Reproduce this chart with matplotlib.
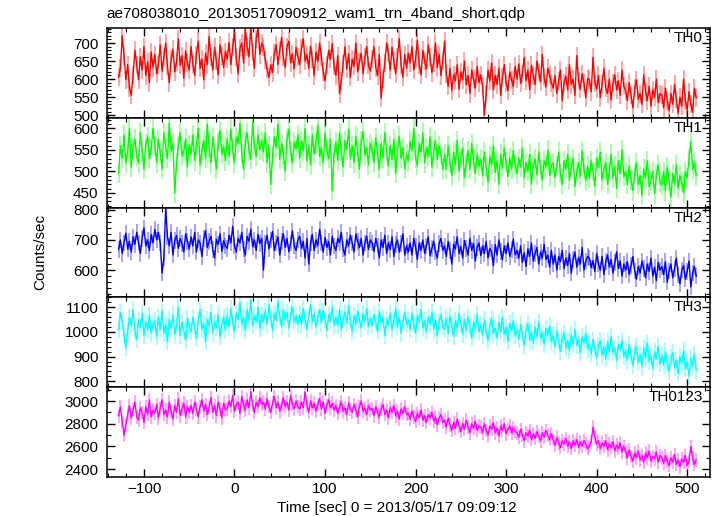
import numpy as np
import matplotlib
matplotlib.use("Agg")
import matplotlib.pyplot as plt
from matplotlib.ticker import MultipleLocator

plt.rcParams["font.family"] = ["Liberation Sans", "DejaVu Sans"]
plt.rcParams["font.size"] = 11

title = "ae708038010_20130517090912_wam1_trn_4band_short.qdp"
x_label = "Time [sec] 0 = 2013/05/17 09:09:12"
y_label = "Counts/sec"

# time grid of the light curve (sec), one value every 2 s
t_start = -128
t_step = 2

th0 = [
    605, 630, 720, 665, 598, 640, 575, 555, 612, 680, 640, 598, 662, 625, 690, 610, 648, 590, 675, 632,
    668, 615, 640, 695, 622, 660, 700, 635, 590, 655, 682, 620, 648, 712, 638, 665, 602, 678, 645, 625,
    690, 642, 610, 668, 705, 630, 655, 598, 672, 640, 718, 660, 625, 688, 650, 612, 695, 665, 632, 676,
    655, 702, 640, 690, 728, 660, 615, 685, 700, 645, 738, 690, 662, 745, 675, 630, 712, 740, 668, 700,
    690, 652, 628, 605, 640, 618, 672, 695, 640, 680, 715, 660, 632, 690, 705, 645, 670, 628, 688, 662,
    640, 685, 712, 650, 668, 630, 692, 655, 610, 675, 648, 700, 662, 620, 595, 640, 680, 655, 698, 635,
    610, 665, 560, 595, 642, 690, 628, 670, 605, 655, 635, 700, 620, 648, 672, 615, 660, 690, 638, 622,
    655, 690, 632, 610, 668, 548, 600, 645, 700, 672, 625, 688, 650, 615, 662, 712, 640, 605, 668, 630,
    672, 645, 690, 625, 655, 708, 640, 612, 680, 650, 628, 695, 660, 618, 645, 700, 632, 668, 610, 650,
    705, 615, 580, 630, 568, 612, 595, 640, 572, 620, 598, 650, 585, 610, 560, 625, 600, 575, 635, 590,
    612, 580, 500, 560, 625, 595, 645, 570, 610, 585, 630, 555, 605, 640, 590, 568, 620, 598, 580, 635,
    600, 642, 588, 615, 660, 595, 625, 570, 638, 610, 585, 650, 620, 592, 668, 605, 578, 630, 612, 590,
    575, 610, 560, 595, 625, 540, 590, 608, 570, 640, 585, 600, 555, 665, 595, 572, 615, 588, 548, 602,
    598, 565, 660, 590, 572, 610, 548, 585, 630, 575, 560, 600, 542, 588, 612, 570, 595, 555, 625, 580,
    568, 540, 590, 555, 520, 575, 598, 545, 560, 530, 612, 565, 540, 580, 525, 570, 550, 600, 535, 560,
    555, 520, 575, 540, 512, 560, 530, 585, 545, 505, 550, 525, 600, 540, 515, 565, 530, 508, 575, 548,
]
th1 = [
    495, 560, 530, 585, 520, 545, 600, 510, 555, 575, 535, 520, 590, 548, 505, 565, 580, 530, 552, 600,
    560, 520, 575, 545, 505, 590, 555, 530, 612, 548, 565, 450, 520, 560, 590, 535, 548, 575, 510, 562,
    540, 585, 525, 560, 600, 515, 548, 572, 530, 610, 555, 520, 580, 545, 505, 568, 595, 540, 558, 525,
    575, 535, 598, 552, 520, 580, 565, 612, 540, 505, 570, 590, 548, 528, 615, 560, 535, 585, 550, 572,
    545, 590, 520, 560, 470, 535, 580, 555, 610, 528, 565, 540, 500, 575, 598, 545, 520, 568, 552, 585,
    530, 572, 548, 600, 525, 560, 515, 585, 540, 565, 608, 535, 555, 520, 590, 548, 530, 575, 455, 540,
    568, 525, 590, 545, 510, 572, 550, 598, 530, 560, 520, 582, 545, 505, 570, 592, 538, 555, 515, 565,
    550, 520, 578, 540, 505, 565, 532, 590, 545, 512, 560, 528, 575, 495, 548, 582, 530, 555, 505, 540,
    525, 570, 548, 600, 530, 515, 565, 545, 590, 520, 555, 535, 580, 510, 548, 572, 528, 560, 540, 505,
    540, 505, 560, 520, 490, 545, 515, 572, 500, 530, 555, 485, 520, 548, 505, 565, 525, 495, 540, 512,
    528, 490, 545, 510, 475, 535, 515, 560, 498, 525, 470, 540, 508, 555, 520, 488, 532, 505, 548, 515,
    495, 530, 510, 555, 485, 520, 500, 540, 470, 515, 528, 492, 545, 505, 480, 525, 510, 550, 490, 515,
    520, 485, 512, 545, 495, 470, 525, 505, 540, 480, 510, 530, 465, 500, 520, 488, 548, 505, 478, 512,
    485, 525, 500, 465, 530, 510, 545, 480, 505, 520, 470, 498, 540, 485, 512, 460, 525, 495, 550, 488,
    500, 470, 512, 480, 455, 495, 520, 470, 490, 445, 505, 485, 525, 465, 478, 500, 448, 492, 515, 475,
    468, 500, 455, 510, 480, 440, 495, 470, 515, 460, 490, 475, 450, 500, 485, 530, 570, 505, 520, 490,
]
th2 = [
    668, 700, 655, 690, 722, 670, 695, 660, 710, 685, 725, 690, 655, 705, 740, 680, 700, 665, 718, 690,
    735, 700, 725, 690, 590, 640, 805, 710, 680, 725, 650, 698, 715, 672, 705, 688, 660, 720, 695, 670,
    710, 680, 725, 660, 700, 690, 645, 705, 730, 675, 695, 712, 668, 640, 702, 685, 720, 662, 698, 680,
    672, 715, 690, 745, 680, 660, 705, 690, 725, 670, 650, 712, 695, 735, 678, 700, 665, 718, 688, 705,
    600, 690, 715, 670, 700, 728, 665, 690, 710, 650, 695, 720, 675, 705, 660, 690, 730, 680, 665, 700,
    712, 672, 695, 640, 705, 620, 690, 718, 665, 700, 680, 735, 690, 660, 708, 675, 695, 650, 712, 680,
    665, 705, 690, 725, 670, 650, 700, 680, 715, 690, 660, 720, 695, 675, 705, 650, 690, 712, 668, 700,
    690, 662, 705, 680, 640, 700, 675, 715, 655, 690, 668, 710, 645, 685, 700, 660, 688, 720, 650, 680,
    660, 690, 650, 705, 678, 635, 690, 665, 700, 655, 680, 710, 648, 672, 695, 660, 640, 688, 705, 665,
    680, 645, 695, 665, 620, 685, 670, 710, 655, 678, 640, 698, 672, 650, 705, 665, 688, 630, 675, 690,
    648, 680, 655, 695, 640, 672, 660, 615, 685, 650, 700, 662, 635, 680, 655, 690, 645, 668, 702, 650,
    665, 640, 680, 625, 658, 612, 670, 645, 690, 630, 655, 675, 620, 660, 640, 685, 635, 650, 610, 665,
    620, 650, 600, 645, 628, 665, 605, 640, 615, 655, 590, 635, 660, 610, 642, 620, 675, 600, 630, 645,
    640, 608, 632, 595, 655, 620, 600, 645, 585, 628, 650, 610, 635, 590, 625, 660, 605, 630, 580, 620,
    600, 628, 585, 615, 645, 598, 570, 612, 590, 630, 605, 575, 620, 595, 640, 580, 610, 565, 625, 600,
    612, 585, 628, 560, 598, 620, 575, 605, 640, 585, 555, 600, 615, 570, 595, 630, 545, 590, 612, 580,
]
th3 = [
    1010, 1080, 1040, 990, 935, 1005, 1060, 1025, 1090, 1000, 970, 1050, 1020, 1075, 985, 1040, 1010, 1065, 995, 1030,
    1045, 980, 1060, 1010, 1085, 995, 1030, 960, 1050, 1015, 1070, 990, 1025, 1100, 985, 1040, 1005, 965, 1055, 1020,
    1000, 1060, 1020, 975, 1045, 1090, 1010, 1035, 960, 1050, 1025, 1080, 995, 1040, 1015, 1070, 980, 1030, 1060, 1005,
    1065, 1020, 1095, 1040, 1000, 1075, 1050, 1120, 1030, 1060, 1005, 1090, 1045, 1130, 1025, 1065, 1040, 1100, 1015, 1070,
    1040, 1085, 1030, 1110, 1055, 1005, 1075, 1045, 1125, 1060, 1020, 1090, 1050, 1080, 1015, 1070, 1100, 1040, 1065, 1030,
    1070, 1030, 1095, 1050, 1010, 1065, 1110, 1040, 1075, 1020, 1060, 1090, 1035, 1085, 1050, 1005, 1070, 1045, 1100, 1025,
    1060, 1025, 1090, 1010, 1050, 1080, 1035, 1105, 1045, 1000, 1065, 1030, 1085, 1050, 1015, 1075, 1040, 1095, 1020, 1055,
    1025, 1070, 1040, 1000, 1085, 1035, 1060, 985, 1050, 1030, 1075, 1010, 1045, 1095, 1020, 1060, 995, 1040, 1080, 1030,
    1050, 1010, 1075, 1030, 995, 1065, 1040, 1090, 1015, 1045, 1000, 1060, 1030, 1080, 1010, 1050, 985, 1040, 1070, 1020,
    1010, 1055, 995, 1065, 1025, 980, 1045, 1015, 1075, 1030, 990, 1050, 1005, 1060, 1020, 975, 1040, 1010, 1070, 1000,
    1030, 985, 1050, 1005, 965, 1025, 1055, 995, 1015, 975, 1040, 1000, 1060, 990, 1020, 960, 1035, 1005, 1045, 985,
    1010, 970, 1030, 990, 945, 1005, 1035, 965, 1000, 955, 1020, 980, 1040, 975, 995, 950, 1015, 985, 1025, 960,
    985, 940, 1005, 960, 920, 975, 995, 935, 965, 925, 990, 950, 1010, 945, 970, 915, 980, 955, 995, 930,
    955, 910, 970, 930, 895, 945, 965, 905, 940, 890, 960, 920, 980, 915, 935, 885, 950, 925, 965, 900,
    925, 885, 950, 905, 865, 920, 940, 875, 910, 860, 935, 895, 955, 880, 905, 850, 920, 890, 940, 870,
    905, 865, 920, 875, 840, 895, 915, 855, 885, 830, 900, 870, 925, 850, 880, 820, 895, 860, 910, 845,
]
th0123 = [
    2870, 2950, 2820, 2700, 2790, 2880, 2960, 2850, 2920, 2990, 2860, 2830, 2940, 2900, 2810, 2950, 2880, 3010, 2860, 2920,
    2890, 2970, 2850, 2940, 3010, 2880, 2920, 2860, 2990, 2910, 2840, 2960, 2900, 3020, 2870, 2930, 2980, 2860, 2950, 2900,
    2960, 2890, 2990, 2930, 2860, 2950, 3010, 2910, 2970, 2880, 2940, 3030, 2900, 2960, 2870, 2990, 2930, 2850, 2980, 2920,
    2930, 3000, 2950, 3050, 2910, 2970, 2990, 2890, 3040, 2960, 2920, 3010, 2940, 3080, 2960, 2900, 2990, 2950, 3030, 2970,
    2990, 2930, 3020, 2950, 2900, 2980, 3040, 2940, 2990, 2910, 2960, 3030, 2950, 2990, 2920, 3050, 2970, 2930, 3000, 2950,
    2930, 2990, 2940, 3080, 2960, 2900, 3000, 2940, 2980, 2910, 2970, 3020, 2930, 2990, 2890, 2960, 3010, 2940, 2980, 2920,
    2960, 2890, 2950, 2990, 2910, 2940, 2880, 2980, 2930, 2900, 2970, 2920, 2860, 2950, 3000, 2910, 2940, 2880, 2960, 2920,
    2935, 2870, 2950, 2900, 2860, 2930, 2970, 2880, 2920, 2850, 2940, 2900, 2960, 2870, 2910, 2840, 2930, 2890, 2950, 2880,
    2890, 2840, 2910, 2860, 2820, 2890, 2850, 2920, 2830, 2870, 2810, 2880, 2850, 2900, 2820, 2860, 2790, 2850, 2880, 2810,
    2830, 2770, 2850, 2790, 2740, 2810, 2760, 2840, 2780, 2730, 2800, 2750, 2830, 2770, 2720, 2800, 2760, 2820, 2740, 2780,
    2770, 2720, 2800, 2740, 2700, 2780, 2750, 2810, 2720, 2760, 2690, 2780, 2740, 2800, 2710, 2750, 2780, 2720, 2760, 2730,
    2720, 2680, 2750, 2700, 2650, 2720, 2690, 2740, 2660, 2710, 2670, 2730, 2690, 2650, 2720, 2680, 2740, 2700, 2660, 2710,
    2660, 2610, 2680, 2630, 2590, 2650, 2620, 2670, 2600, 2640, 2580, 2650, 2610, 2660, 2590, 2640, 2600, 2650, 2620, 2580,
    2600, 2640, 2770, 2680, 2620, 2650, 2580, 2630, 2600, 2650, 2570, 2620, 2590, 2640, 2560, 2610, 2580, 2630, 2550, 2600,
    2550, 2500, 2570, 2510, 2470, 2540, 2500, 2560, 2480, 2520, 2460, 2540, 2500, 2560, 2470, 2510, 2490, 2550, 2460, 2520,
    2500, 2450, 2520, 2470, 2430, 2500, 2460, 2530, 2440, 2480, 2420, 2490, 2460, 2520, 2430, 2470, 2600, 2500, 2440, 2480,
]

bands = ["TH0", "TH1", "TH2", "TH3", "TH0123"]
series = [th0, th1, th2, th3, th0123]
errors = [25, 23, 27, 34, 60]
colors = ["#ff0000", "#00ff00", "#0000ff", "#00ffff", "#ff00ff"]
ylims = [(493, 742), (416, 625), (510, 807), (776, 1140), (2330, 3122)]
major_steps = [50, 50, 100, 100, 200]
minor_steps = [10, 10, 20, 20, 100]

fig, axes = plt.subplots(5, 1, sharex=True, figsize=(7.17, 5.16), dpi=100)
fig.subplots_adjust(left=0.149, right=0.990, top=0.946, bottom=0.0756, hspace=0)

for i, ax in enumerate(axes):
    y = np.array(series[i], dtype=float)
    t = t_start + t_step * np.arange(len(y))
    eb = ax.errorbar(t, y, yerr=errors[i], fmt="-", color=colors[i], lw=1.0,
                     ecolor=colors[i], elinewidth=1.1, capsize=0)
    eb[2][0].set_alpha(0.45)  # lighter error bars
    ax.set_ylim(*ylims[i])
    ax.set_xlim(-141, 525)
    ax.yaxis.set_major_locator(MultipleLocator(major_steps[i]))
    ax.yaxis.set_minor_locator(MultipleLocator(minor_steps[i]))
    ax.xaxis.set_major_locator(MultipleLocator(100))
    ax.xaxis.set_minor_locator(MultipleLocator(20))
    ax.tick_params(which="both", direction="in", top=True, right=True, labelsize=11)
    ax.tick_params(which="major", length=6, width=1)
    ax.tick_params(which="minor", length=3, width=0.8)
    ax.tick_params(axis="y", pad=6)
    for s in ax.spines.values():
        s.set_linewidth(1.1)
    ax.text(0.988, 0.965, bands[i], transform=ax.transAxes, ha="right", va="top", fontsize=11)

fig.text(0.149, 0.973, title, ha="left", va="center", fontsize=11)
fig.text(0.056, 0.512, y_label, rotation=90, ha="center", va="center", fontsize=11)
fig.text(0.554, 0.0155, x_label, ha="center", va="center", fontsize=11)

fig.savefig("out.png", dpi=100)
